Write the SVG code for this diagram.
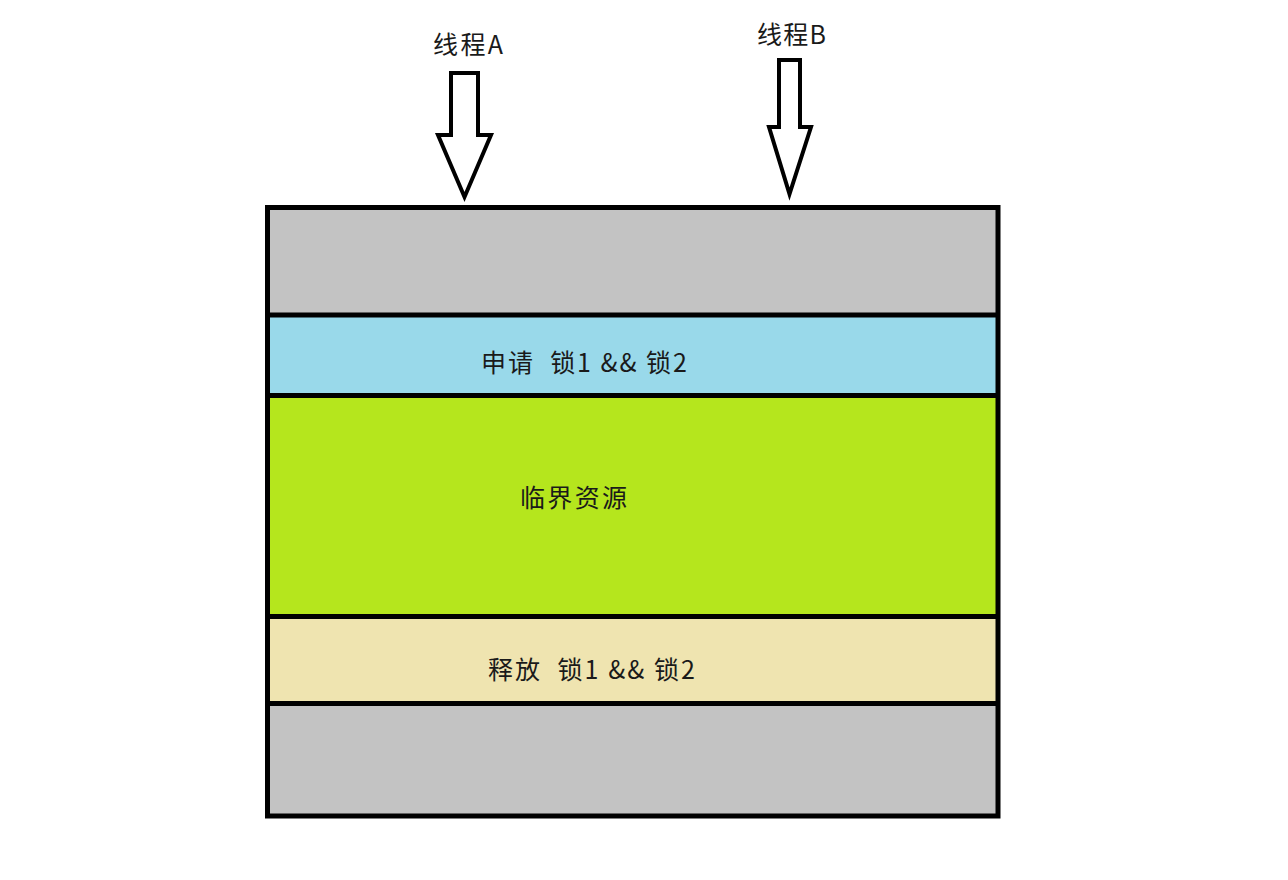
<svg xmlns="http://www.w3.org/2000/svg" width="1288" height="880" viewBox="0 0 1288 880">
<style>
.t{font-family:"Noto Sans CJK SC","Microsoft YaHei","Noto Sans",sans-serif;font-size:25px;fill:#1a1a1a}
.band{stroke:none}
.arrow{fill:#fff;stroke:#000;stroke-width:4;stroke-linejoin:miter}
.line{stroke:#000;stroke-width:5}
</style>
<rect width="1288" height="880" fill="#fff"/>
<g id="box">
<rect class="band" x="267" y="207" width="731" height="108" fill="#c3c3c3"/>
<rect class="band" x="267" y="315" width="731" height="80" fill="#99d9ea"/>
<rect class="band" x="267" y="395" width="731" height="222" fill="#b5e61d"/>
<rect class="band" x="267" y="617" width="731" height="87" fill="#efe4b0"/>
<rect class="band" x="267" y="704" width="731" height="112" fill="#c3c3c3"/>
<line class="line" x1="267" y1="315" x2="998" y2="315"/>
<line class="line" x1="267" y1="395.5" x2="998" y2="395.5"/>
<line class="line" x1="267" y1="616.5" x2="998" y2="616.5"/>
<line class="line" x1="267" y1="703.5" x2="998" y2="703.5"/>
<rect x="267.5" y="207.5" width="730.5" height="608.5" fill="none" stroke="#000" stroke-width="5"/>
</g>
<g id="apply"><text class="t" x="481" y="372" textLength="206" lengthAdjust="spacing" xml:space="preserve">申请  锁1 &amp;&amp; 锁2</text></g>
<g id="critical"><text class="t" x="520" y="507" textLength="107" lengthAdjust="spacing">临界资源</text></g>
<g id="release"><text class="t" x="488" y="679" textLength="207" lengthAdjust="spacing" xml:space="preserve">释放  锁1 &amp;&amp; 锁2</text></g>
<g id="threadA">
<text class="t" x="433" y="54" textLength="70" lengthAdjust="spacing">线程A</text>
</g>
<g id="threadB">
<text class="t" x="757" y="44" textLength="69" lengthAdjust="spacing">线程B</text>
</g>
<g id="connectors">
<polygon class="arrow" points="451,73 478,73 478,135 491,135 464.5,197 438,135 451,135"/>
<polygon class="arrow" points="779,60 800,60 800,127 811,127 789.5,194 769,127 779,127"/>
</g>
</svg>
